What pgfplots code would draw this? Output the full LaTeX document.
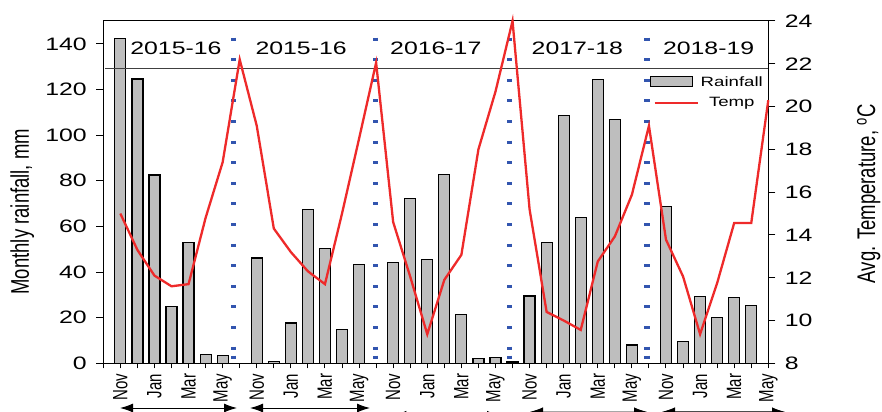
\documentclass[border=0pt]{standalone}
\usepackage{pgfplots}
\pgfplotsset{compat=1.18}
\usepackage{fontspec}
\setmainfont{Liberation Sans}[FakeStretch=1.38]
\newfontfamily\rotfont{Liberation Sans}
\usetikzlibrary{arrows.meta}
\definecolor{barg}{RGB}{190,190,190}
\definecolor{tred}{RGB}{238,42,42}
\definecolor{dblue}{RGB}{50,85,175}
\newcommand{\rl}[1]{{\rotfont\scalebox{1}[1.38]{#1}}}

\pgfplotstableread{
pos rain
0 142.2
1 124.6
2 82.5
3 24.8
4 52.8
5 3.8
6 3.3
8 46.1
9 0.7
10 17.7
11 67.3
12 50.2
13 14.9
14 43.4
16 44.2
17 72.1
18 45.6
19 82.9
20 21.5
21 2.2
22 2.6
23 0.6
24 29.5
25 53.1
26 108.6
27 63.9
28 124.2
29 106.8
30 8.0
32 68.7
33 9.5
34 29.4
35 20.0
36 28.8
37 25.4
}\rain

\pgfplotstableread{
pos temp
0 15.0
1 13.3
2 12.1
3 11.6
4 11.7
5 14.8
6 17.4
7 22.2
8 19.1
9 14.3
10 13.2
11 12.3
12 11.7
13 15.0
14 18.5
15 22.05
16 14.6
17 12.05
18 9.36
19 11.9
20 13.07
21 18.0
22 20.7
23 24.0
24 15.2
25 10.4
26 10.0
27 9.56
28 12.76
29 13.93
30 15.88
31 19.1
32 13.78
33 12.06
34 9.36
35 11.75
36 14.56
37 14.56
38 20.3
}\temp

\begin{document}
\begin{tikzpicture}
\path[use as bounding box] (-103.3bp,-48.7bp) rectangle (778.7bp,363.3bp);
\begin{axis}[
  at={(0,0)}, anchor=south west,
  scale only axis, width=665bp, height=342.3bp,
  xmin=-1, xmax=38, ymin=0, ymax=150,
  xtick={0,2,...,38}, minor xtick={-1,1,...,37},
  xticklabels={\rl{Nov},\rl{Jan},\rl{Mar},\rl{May},\rl{Nov},\rl{Jan},\rl{Mar},\rl{May},\rl{Nov},\rl{Jan},\rl{Mar},\rl{May},\rl{Nov},\rl{Jan},\rl{Mar},\rl{May},\rl{Nov},\rl{Jan},\rl{Mar},\rl{May}},
  ytick={0,20,...,140},
  tick align=outside, xtick pos=bottom, ytick pos=left,
  major tick length=7bp, minor tick length=5bp,
  xtick style={/pgfplots/major tick length=5bp},
  axis line style={line width=1bp},
  every tick/.style={line width=1bp, black},
  /pgf/number format/assume math mode=true,
  yticklabel style={font=\fontsize{18bp}{20bp}\selectfont, xshift=-6bp},
  xticklabel style={font=\fontsize{15bp}{16bp}\selectfont, rotate=90, anchor=east},
  ylabel={\rotfont\fontsize{18.5bp}{20bp}\selectfont\scalebox{1}[1.38]{Monthly rainfall, mm}},
  ylabel style={at={(axis description cs:-0.122,0.443)}, anchor=center, rotate=0},
]
\addplot[ybar, bar width=11bp, fill=barg, draw=black, line width=1.2bp] table[x=pos,y=rain]{\rain};
\foreach \xx in {6.645,14.96,22.83,30.89}{
  \edef\tmp{\noexpand\draw[dblue, line width=5.5bp, dash pattern=on 3bp off 17.6bp] (axis cs:\xx,142.7) -- (axis cs:\xx,0);
  \noexpand\draw[dblue, line width=5.5bp] (axis cs:\xx,3.4) -- (axis cs:\xx,2.1);}
  \tmp
}
\draw[black!75, line width=1bp] (axis cs:-0.88,129) -- (axis cs:38.3,129);
\node[font=\fontsize{18bp}{20bp}\selectfont] at (axis cs:3.26,138.2) {2015-16};
\node[font=\fontsize{18bp}{20bp}\selectfont] at (axis cs:10.6,138.2) {2015-16};
\node[font=\fontsize{18bp}{20bp}\selectfont] at (axis cs:18.5,138.2) {2016-17};
\node[font=\fontsize{18bp}{20bp}\selectfont] at (axis cs:26.8,138.2) {2017-18};
\node[font=\fontsize{18bp}{20bp}\selectfont] at (axis cs:34.5,138.2) {2018-19};
\end{axis}
\begin{axis}[
  at={(0,0)}, anchor=south west,
  scale only axis, width=665bp, height=342.3bp,
  xmin=-1, xmax=38, ymin=8, ymax=24,
  axis x line=none, axis y line*=right,
  ytick={8,10,...,24},
  tick align=outside, major tick length=7bp,
  axis line style={line width=1bp},
  every tick/.style={line width=1bp, black},
  clip=false,
  /pgf/number format/assume math mode=true,
  yticklabel style={font=\fontsize{18bp}{20bp}\selectfont, xshift=6bp},
  ylabel={\rotfont\fontsize{18.5bp}{20bp}\selectfont\scalebox{1}[1.38]{Avg. Temperature, \textsuperscript{o}C}},
  ylabel style={at={(axis description cs:1.151,0.495)}, anchor=center, rotate=0},
  legend style={draw=none, fill=none, at={(0.822,0.845)}, anchor=north west,
    font=\fontsize{13.5bp}{15bp}\selectfont, row sep=6bp, inner sep=0pt},
  legend cell align=center,
]
\addlegendimage{legend image code/.code={\draw[fill=barg, draw=black, line width=1.2bp] (0bp,-5bp) rectangle (42bp,5bp);}}
\addlegendentry{Rainfall}
\addplot[tred, line width=2.3bp, mark=none, legend image code/.code={\draw[tred, line width=2bp] (4bp,0bp) -- (47bp,0bp);}] table[x=pos,y=temp]{\temp};
\addlegendentry{Temp}
\end{axis}
\draw[line width=1bp, {Latex[length=13bp,width=9bp]}-{Latex[length=13bp,width=9bp]}] (16.7bp,-44.7bp) -- (133.7bp,-44.7bp);
\draw[line width=1bp, {Latex[length=13bp,width=9bp]}-{Latex[length=13bp,width=9bp]}] (146.7bp,-44.7bp) -- (266.7bp,-44.7bp);
\draw[line width=1bp, {Latex[length=13bp,width=9bp]}-{Latex[length=13bp,width=9bp]}] (290bp,-52bp) -- (396.7bp,-52bp);
\draw[line width=1bp, black!35, {Latex[length=13bp,width=9bp,black]}-{Latex[length=13bp,width=9bp,black]}] (426.7bp,-48.5bp) -- (543.7bp,-48.5bp);
\draw[line width=1bp, black!70, {Latex[length=13bp,width=9bp,black]}-{Latex[length=13bp,width=9bp,black]}] (558.7bp,-48.5bp) -- (681.7bp,-48.5bp);
\end{tikzpicture}
\end{document}
